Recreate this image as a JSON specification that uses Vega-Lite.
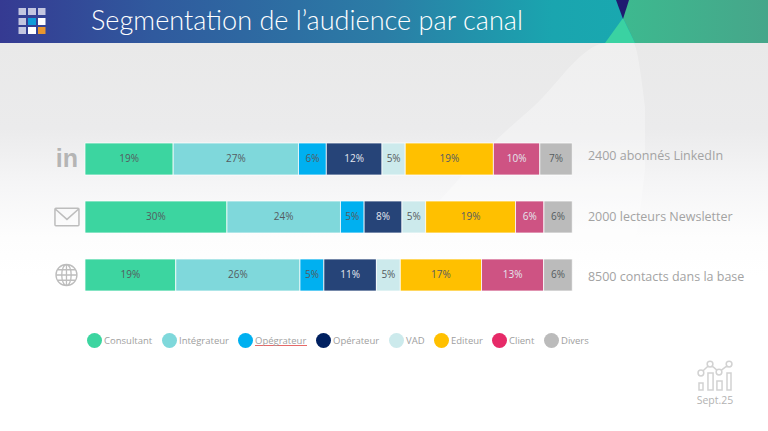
{
"$schema":"https://vega.github.io/schema/vega-lite/v6.json",
"width":768,"height":431,"padding":0,
"autosize":{"type":"fit","contains":"padding"},
"background":"#FFFFFF",
"config":{"view":{"stroke":null}},
"datasets":{
"segments":[
{"canal":"LinkedIn","segment":"Consultant","rang":1,"pct":0.19},{"canal":"LinkedIn","segment":"Intégrateur","rang":2,"pct":0.27},{"canal":"LinkedIn","segment":"Opégrateur","rang":3,"pct":0.06},{"canal":"LinkedIn","segment":"Opérateur","rang":4,"pct":0.12},{"canal":"LinkedIn","segment":"VAD","rang":5,"pct":0.05},{"canal":"LinkedIn","segment":"Editeur","rang":6,"pct":0.19},{"canal":"LinkedIn","segment":"Client","rang":7,"pct":0.10},{"canal":"LinkedIn","segment":"Divers","rang":8,"pct":0.07},
{"canal":"Newsletter","segment":"Consultant","rang":1,"pct":0.30},{"canal":"Newsletter","segment":"Intégrateur","rang":2,"pct":0.24},{"canal":"Newsletter","segment":"Opégrateur","rang":3,"pct":0.05},{"canal":"Newsletter","segment":"Opérateur","rang":4,"pct":0.08},{"canal":"Newsletter","segment":"VAD","rang":5,"pct":0.05},{"canal":"Newsletter","segment":"Editeur","rang":6,"pct":0.19},{"canal":"Newsletter","segment":"Client","rang":7,"pct":0.06},{"canal":"Newsletter","segment":"Divers","rang":8,"pct":0.06},
{"canal":"Base","segment":"Consultant","rang":1,"pct":0.19},{"canal":"Base","segment":"Intégrateur","rang":2,"pct":0.26},{"canal":"Base","segment":"Opégrateur","rang":3,"pct":0.05},{"canal":"Base","segment":"Opérateur","rang":4,"pct":0.11},{"canal":"Base","segment":"VAD","rang":5,"pct":0.05},{"canal":"Base","segment":"Editeur","rang":6,"pct":0.17},{"canal":"Base","segment":"Client","rang":7,"pct":0.13},{"canal":"Base","segment":"Divers","rang":8,"pct":0.06}
],
"canaux":[
{"canal":"LinkedIn","audience":"2400 abonnés LinkedIn","ancre":1.032,"icone":-0.037},
{"canal":"Newsletter","audience":"2000 lecteurs Newsletter","ancre":1.032,"icone":-0.037},
{"canal":"Base","audience":"8500 contacts dans la base","ancre":1.032,"icone":-0.038}
],
"logo":[
{"x":18.5,"x2":26,"y":8,"y2":15,"c":"#C3C6E0"},{"x":28,"x2":36,"y":8,"y2":15,"c":"#C3C6E0"},{"x":38,"x2":45.5,"y":8,"y2":15,"c":"#C3C6E0"},
{"x":18.5,"x2":26,"y":18,"y2":25,"c":"#C3C6E0"},{"x":28,"x2":36,"y":18,"y2":25,"c":"#0F9BD8"},{"x":38,"x2":45.5,"y":18,"y2":25,"c":"#FFFFFF"},
{"x":18.5,"x2":26,"y":27,"y2":34,"c":"#C3C6E0"},{"x":28,"x2":36,"y":27,"y2":34,"c":"#FFFFFF"},{"x":38,"x2":45.5,"y":27,"y2":34,"c":"#E8962E"}
]
},
"resolve":{"scale":{"x":"independent","y":"independent"}},
"layer":[
{
"encoding":{
"x":{"field":"x","type":"quantitative","axis":null,"scale":{"domain":[0,768],"nice":false,"zero":false}},
"y":{"field":"y","type":"quantitative","axis":null,"scale":{"domain":[431,0],"nice":false,"zero":false}}
},
"layer":[
{"data":{"values":[{"x":0,"x2":768,"y":43,"y2":431}]},
 "mark":{"type":"rect","color":{"gradient":"linear","x1":0,"y1":0,"x2":0,"y2":1,"stops":[{"offset":0,"color":"#E9E9E9"},{"offset":0.22,"color":"#EBEBEC"},{"offset":0.36,"color":"#F5F5F6"},{"offset":0.5,"color":"#FDFDFD"},{"offset":0.6,"color":"#FFFFFF"},{"offset":1,"color":"#FFFFFF"}]}},
 "encoding":{"x2":{"field":"x2"},"y2":{"field":"y2"}}},
{"data":{"values":[{"x":440,"y":200,"y2":200},{"x":493,"y":143,"y2":290},{"x":533,"y":107,"y2":290},{"x":607,"y":43,"y2":280},{"x":633,"y":43,"y2":250},{"x":645,"y":107,"y2":170}]},
 "mark":{"type":"area","color":"#FFFFFF","opacity":0.3,"interpolate":"monotone"},
 "encoding":{"y2":{"field":"y2"}}},
{"data":{"values":[{"x":0,"x2":768,"y":0,"y2":43}]},
 "mark":{"type":"rect","color":{"gradient":"linear","x1":0,"y1":0,"x2":1,"y2":0,"stops":[{"offset":0,"color":"#353A92"},{"offset":0.2,"color":"#305A9E"},{"offset":0.5,"color":"#2B7DA6"},{"offset":0.72,"color":"#1AA5AF"},{"offset":1,"color":"#17AEB0"}]}},
 "encoding":{"x2":{"field":"x2"},"y2":{"field":"y2"}}},
{"data":{"values":[{"x":623,"y":18,"y2":18},{"x":627,"y":0,"y2":26},{"x":635,"y":0,"y2":43},{"x":768,"y":0,"y2":43}]},
 "mark":{"type":"area","color":{"gradient":"linear","x1":0,"y1":0,"x2":1,"y2":0,"stops":[{"offset":0,"color":"#3DB98F"},{"offset":1,"color":"#46A68A"}]}},
 "encoding":{"y2":{"field":"y2"}}},
{"data":{"values":[{"x":605,"y":43,"y2":43},{"x":623,"y":18,"y2":43},{"x":635,"y":43,"y2":43}]},
 "mark":{"type":"area","color":"#3AD2A2"},
 "encoding":{"y2":{"field":"y2"}}},
{"data":{"values":[{"x":616,"y":0,"y2":0},{"x":623,"y":0,"y2":19},{"x":629,"y":0,"y2":0}]},
 "mark":{"type":"area","color":"#1F1A70"},
 "encoding":{"y2":{"field":"y2"}}},
{"data":{"name":"logo"},
 "mark":{"type":"rect"},
 "encoding":{"x2":{"field":"x2"},"y2":{"field":"y2"},"color":{"field":"c","type":"nominal","scale":null}}},
{"data":{"values":[{"x":91,"y":22,"t":"Segmentation de l’audience par canal"}]},
 "mark":{"type":"text","align":"left","baseline":"middle","font":"Lato","fontWeight":300,"fontSize":27.1,"color":"#FFFFFF"},
 "encoding":{"text":{"field":"t"}}},
{"data":{"values":[{"x":255,"x2":307,"y":345.5}]},
 "mark":{"type":"rule","color":"#E0504F","strokeWidth":1,"opacity":0.85},
 "encoding":{"x2":{"field":"x2"}}},
{"data":{"values":[{"x":715,"y":377}]},
 "mark":{"type":"point","filled":false,"stroke":"#D2D2D2","strokeWidth":1.5,"opacity":1,"size":1024,
 "shape":"M-1,.81V.38H-.75V.81ZM-.44,.81V-.25H-.12V.81ZM.12,.81V.25H.44V.81ZM.75,.81V-.25H1V.81ZM-.76,-.37L-.43,-.69M-.18,-.69L.12,-.43M.38,-.41L.75,-.7M-.7,-.25A.18,.18 0 1,1 -1.06,-.25A.18,.18 0 1,1 -.7,-.25ZM-.13,-.81A.18,.18 0 1,1 -.49,-.81A.18,.18 0 1,1 -.13,-.81ZM.43,-.31A.18,.18 0 1,1 .07,-.31A.18,.18 0 1,1 .43,-.31ZM1.06,-.81A.18,.18 0 1,1 .7,-.81A.18,.18 0 1,1 1.06,-.81Z"}},
{"data":{"values":[{"x":715,"y":401,"t":"Sept.25"}]},
 "mark":{"type":"text","align":"center","baseline":"middle","font":"Open Sans","fontSize":10.5,"color":"#B3B3B3"},
 "encoding":{"text":{"field":"t"}}}
]
},
{
"data":{"name":"segments"},
"encoding":{
"y":{"field":"canal","type":"nominal","axis":null,"sort":["LinkedIn","Newsletter","Base"],"scale":{"type":"band","range":[130,304],"paddingInner":0.448,"paddingOuter":0.224}}
},
"layer":[
{"mark":{"type":"bar","stroke":"#FFFFFF","strokeWidth":1,"strokeOpacity":0.75},
 "encoding":{
 "x":{"field":"pct","type":"quantitative","stack":"normalize","axis":null,"scale":{"domain":[-0.1744,1.4016],"nice":false,"zero":false}},
 "order":{"field":"rang","type":"quantitative"},
 "fill":{"field":"segment","type":"nominal","legend":null,
  "scale":{"domain":["Consultant","Intégrateur","Opégrateur","Opérateur","VAD","Editeur","Client","Divers"],"range":["#3CD5A0","#7FD8DB","#00B0F0","#264478","#CCEAEC","#FFC000","#CE5383","#BBBBBB"]}}
 }},
{"mark":{"type":"point","filled":true,"size":0},
 "encoding":{
 "x":{"field":"pct","type":"quantitative","stack":"normalize","axis":null},
 "order":{"field":"rang","type":"quantitative"},
 "color":{"field":"segment","type":"nominal",
  "scale":{"domain":["Consultant","Intégrateur","Opégrateur","Opérateur","VAD","Editeur","Client","Divers"],"range":["#3CD5A0","#7FD8DB","#00B0F0","#002060","#CCEAEC","#FFC000","#E62A68","#BBBBBB"]},
  "legend":{"title":null,"orient":"none","legendX":87,"legendY":333,"direction":"horizontal","columns":8,"symbolType":"circle","symbolSize":225,"symbolStrokeWidth":0,"symbolOpacity":1,"labelFont":"Open Sans","labelFontSize":9.5,"labelColor":"#A0A0A0","labelOffset":2,"columnPadding":9,"padding":0}}
 }},
{"mark":{"type":"text","font":"Open Sans","fontSize":10,"baseline":"middle"},
 "encoding":{
 "x":{"field":"pct","type":"quantitative","stack":"normalize","bandPosition":0.5,"axis":null},
 "detail":{"field":"segment"},
 "order":{"field":"rang","type":"quantitative"},
 "text":{"field":"pct","type":"quantitative","format":".0%"},
 "color":{"condition":{"test":"datum.segment==='Opérateur'||datum.segment==='Client'","value":"#E4E6EE"},"value":"#555B60"}
 }},
{"data":{"name":"canaux"},"transform":[{"filter":"datum.canal==='LinkedIn'"}],
 "mark":{"type":"text","font":"Open Sans","fontSize":12.5,"align":"left","baseline":"middle","color":"#A3A3A3","dy":-3},
 "encoding":{"x":{"field":"ancre","type":"quantitative","axis":null},"text":{"field":"audience"}}},
{"data":{"name":"canaux"},"transform":[{"filter":"datum.canal==='Newsletter'"}],
 "mark":{"type":"text","font":"Open Sans","fontSize":12.5,"align":"left","baseline":"middle","color":"#A3A3A3","dy":0},
 "encoding":{"x":{"field":"ancre","type":"quantitative","axis":null},"text":{"field":"audience"}}},
{"data":{"name":"canaux"},"transform":[{"filter":"datum.canal==='Base'"}],
 "mark":{"type":"text","font":"Open Sans","fontSize":12.5,"align":"left","baseline":"middle","color":"#A3A3A3","dy":2},
 "encoding":{"x":{"field":"ancre","type":"quantitative","axis":null},"text":{"field":"audience"}}},
{"data":{"name":"canaux"},"transform":[{"filter":"datum.canal==='LinkedIn'"}],
 "mark":{"type":"text","font":"Liberation Sans","fontWeight":"bold","fontSize":25,"align":"center","baseline":"middle","color":"#B5B5B5"},
 "encoding":{"x":{"field":"icone","type":"quantitative","axis":null},"text":{"value":"in"}}},
{"data":{"name":"canaux"},"transform":[{"filter":"datum.canal==='Newsletter'"}],
 "mark":{"type":"point","filled":false,"stroke":"#BDBDBD","strokeWidth":1.5,"opacity":1,"size":576,
 "shape":"M-.92,-.72H.92Q1,-.72 1,-.64V.64Q1,.72 .92,.72H-.92Q-1,.72 -1,.64V-.64Q-1,-.72 -.92,-.72ZM-.95,-.65L0,.2L.95,-.65"},
 "encoding":{"x":{"field":"icone","type":"quantitative","axis":null}}},
{"data":{"name":"canaux"},"transform":[{"filter":"datum.canal==='Base'"}],
 "mark":{"type":"point","filled":false,"stroke":"#BDBDBD","strokeWidth":1.3,"opacity":1,"size":441,
 "shape":"M-1,0A1,1 0 1,1 1,0A1,1 0 1,1 -1,0ZM-.45,0A.45,1 0 1,1 .45,0A.45,1 0 1,1 -.45,0ZM-1,0H1M-.87,-.5H.87M-.87,.5H.87M0,-1V1"},
 "encoding":{"x":{"field":"icone","type":"quantitative","axis":null}}}
]
}
]
}
